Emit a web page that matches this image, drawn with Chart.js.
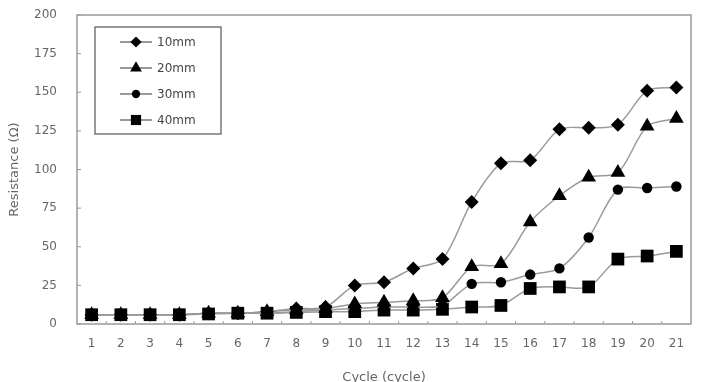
<!DOCTYPE html>
<html>
<head>
<meta charset="utf-8">
<script src="https://cdn.jsdelivr.net/npm/chart.js@4"></script>
<style>
  html, body { margin: 0; padding: 0; background: #fff; overflow: hidden; }
  #wrap { width: 704px; height: 390px; }
</style>
</head>
<body>
<div id="wrap"><canvas id="chart" width="704" height="390"></canvas></div>
<script>
// data
const cycles = ["1","2","3","4","5","6","7","8","9","10","11","12","13","14","15","16","17","18","19","20","21"];
const seriesNames = ["10mm", "20mm", "30mm", "40mm"];
const r10 = [6, 6, 6, 6, 7, 7, 8, 10, 11, 25, 27, 36, 42, 79, 104, 106, 126, 127, 129, 151, 153];
const r20 = [6, 6, 6, 6, 7, 7, 8, 9, 10, 13, 14, 15, 17, 37, 39, 66, 83, 95, 98, 128, 133];
const r30 = [6, 6, 6, 6, 7, 7, 7, 8, 9, 10, 11, 11, 12, 26, 27, 32, 36, 56, 87, 88, 89];
const r40 = [6, 6, 6, 6, 6.5, 7, 7, 7.5, 8, 8, 9, 9, 9.5, 11, 12, 23, 24, 24, 42, 44, 47];
const yTicks = [0, 25, 50, 75, 100, 125, 150, 175, 200];

const markers = [
  { style: "rectRot", radius: 7 },
  { style: "triangle", radius: 8.5 },
  { style: "circle", radius: 5.2 },
  { style: "rect", radius: 9 }
];

const FONT = "'DejaVu Sans', sans-serif";
const TEXT = "#666";
const AXIS = "#999";

function makeSet(name, values, m) {
  return {
    label: name,
    data: values,
    borderColor: "#9a9a9a",
    borderWidth: 1.5,
    backgroundColor: "#000",
    pointStyle: m.style,
    pointRadius: m.radius,
    pointHoverRadius: m.radius,
    pointBackgroundColor: "#000",
    pointBorderColor: "#000",
    pointBorderWidth: 0,
    tension: 0.3,
    fill: false
  };
}

// frame, inward tick marks and the boxed legend
const framePlugin = {
  id: "frame",
  afterDraw(chart) {
    const { ctx, chartArea: a, scales } = chart;
    ctx.save();
    ctx.strokeStyle = AXIS;
    ctx.lineWidth = 1.5;
    ctx.strokeRect(a.left, a.top, a.right - a.left, a.bottom - a.top);

    ctx.lineWidth = 1;
    ctx.beginPath();
    const xs = scales.x;
    for (let i = 0; i < cycles.length - 1; i++) {
      const px = (xs.getPixelForValue(i) + xs.getPixelForValue(i + 1)) / 2;
      ctx.moveTo(px, a.bottom);
      ctx.lineTo(px, a.bottom - 3);
    }
    const ys = scales.y;
    yTicks.forEach(v => {
      const py = ys.getPixelForValue(v);
      ctx.moveTo(a.left, py);
      ctx.lineTo(a.left + 4, py);
    });
    ctx.stroke();

    // legend
    const lx = a.left + 18, ly = a.top + 12, lw = 126, lh = 107;
    ctx.strokeStyle = "#555";
    ctx.lineWidth = 1.2;
    ctx.strokeRect(lx, ly, lw, lh);
    ctx.font = "12px " + FONT;
    ctx.textBaseline = "middle";
    chart.data.datasets.forEach((ds, i) => {
      const cy = ly + 15 + i * 26;
      ctx.strokeStyle = "#333";
      ctx.lineWidth = 1;
      ctx.beginPath();
      ctx.moveTo(lx + 25, cy);
      ctx.lineTo(lx + 57, cy);
      ctx.stroke();
      ctx.fillStyle = "#000";
      Chart.helpers.drawPoint(ctx, { pointStyle: ds.pointStyle, radius: ds.pointRadius * 0.8, borderWidth: 0 }, lx + 41, cy);
      ctx.fillStyle = "#444";
      ctx.fillText(ds.label, lx + 62, cy + 1);
    });
    ctx.restore();
  }
};

new Chart(document.getElementById("chart"), {
  type: "line",
  data: {
    labels: cycles,
    datasets: [
      makeSet(seriesNames[0], r10, markers[0]),
      makeSet(seriesNames[1], r20, markers[1]),
      makeSet(seriesNames[2], r30, markers[2]),
      makeSet(seriesNames[3], r40, markers[3])
    ]
  },
  options: {
    responsive: false,
    animation: false,
    layout: { padding: { top: 15, right: 13, left: 0, bottom: 0 } },
    plugins: {
      legend: { display: false },
      tooltip: { enabled: false }
    },
    scales: {
      x: {
        offset: true,
        grid: { display: false, drawTicks: false },
        border: { display: false },
        ticks: { color: TEXT, font: { family: FONT, size: 12 }, padding: 13, maxRotation: 0, autoSkip: false },
        title: { display: true, text: "Cycle (cycle)", color: TEXT, font: { family: FONT, size: 13 }, padding: { top: 4, bottom: 5 } },
        afterFit(s) { s.height = 66; s.paddingLeft = 0; s.paddingRight = 0; }
      },
      y: {
        min: 0,
        max: 200,
        afterBuildTicks(s) { s.ticks = yTicks.map(v => ({ value: v })); },
        grid: { display: false, drawTicks: false },
        border: { display: false },
        ticks: { color: TEXT, font: { family: FONT, size: 12 }, padding: 20 },
        title: { display: true, text: "Resistance (Ω)", color: TEXT, font: { family: FONT, size: 13 }, padding: { top: 7, bottom: 4 } },
        afterFit(s) { s.width = 77; s.paddingTop = 0; s.paddingBottom = 0; }
      }
    }
  },
  plugins: [framePlugin]
});
</script>
</body>
</html>
